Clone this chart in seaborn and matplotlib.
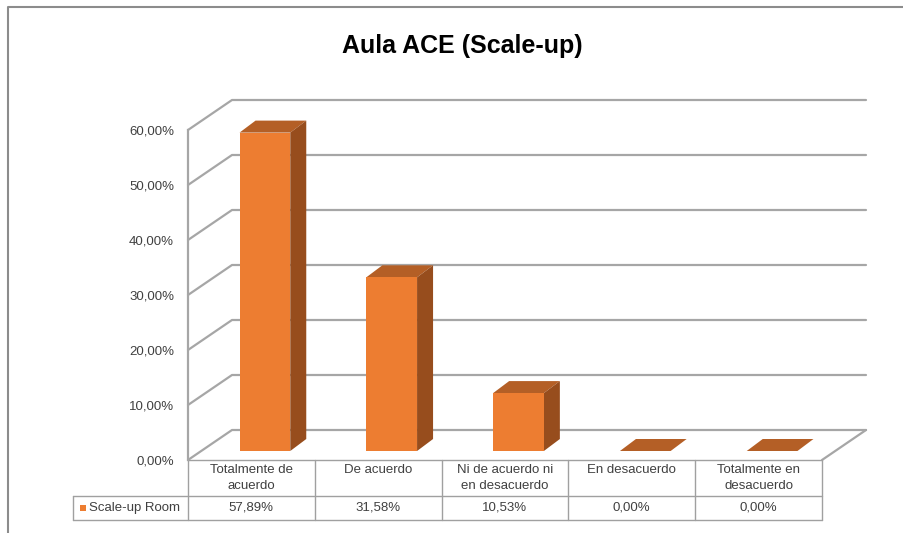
import matplotlib
matplotlib.use("Agg")
import matplotlib.pyplot as plt
import seaborn as sns
import numpy as np
from matplotlib.patches import Polygon, Rectangle
from matplotlib.lines import Line2D
from matplotlib.transforms import ScaledTranslation, IdentityTransform

# ---- data ----
title = "Aula ACE (Scale-up)"
series_name = "Scale-up Room"
categories = ["Totalmente de\nacuerdo", "De acuerdo", "Ni de acuerdo ni\nen desacuerdo",
              "En desacuerdo", "Totalmente en\ndesacuerdo"]
values = [0.5789, 0.3158, 0.1053, 0.0, 0.0]
ticks = [0.0, 0.1, 0.2, 0.3, 0.4, 0.5, 0.6]

FRONT = "#ED7D31"
TOP = "#B45F26"
SIDE = "#974D1D"
GRID = "#A6A6A6"
TXT = "#404040"

sns.set_style("white")
plt.rcParams['font.family'] = ['Liberation Sans', 'DejaVu Sans']

W, H = 904, 533
fig = plt.figure(figsize=(W / 100, H / 100), dpi=100)
ax = fig.add_axes([188 / W, 73 / H, 634 / W, 330 / H])
ax.patch.set_alpha(0)

sns.barplot(x=list(range(len(categories))), y=values, color=FRONT, saturation=1,
            width=0.4, ax=ax, zorder=5)
ax.set_xlim(-0.5, len(categories) - 0.5)
ax.set_ylim(0, 0.6)
ax.set_xticks([])
ax.set_xlabel("")
ax.set_ylabel("")
ax.set_yticks(ticks)
ax.set_yticklabels([f"{t*100:.2f}%".replace(".", ",") for t in ticks])
ax.tick_params(axis="y", length=0, pad=10, labelsize=9.5, labelcolor=TXT)
for s in ["top", "right", "bottom"]:
    ax.spines[s].set_visible(False)
ax.spines["left"].set_color(GRID)
ax.spines["left"].set_linewidth(1.6)

ID = IdentityTransform()


def D(x, v, dx=0.0, dy=0.0):
    X, Y = ax.transData.transform((x, v))
    return (X + dx, Y + dy)


def add_line(pts, color, lw, z):
    xs, ys = zip(*pts)
    ln = Line2D(xs, ys, transform=ID, color=color, lw=lw, zorder=z)
    ln.set_clip_on(False)
    ax.add_artist(ln)


def add_poly(pts, color, z):
    pg = Polygon(pts, closed=True, transform=ID, facecolor=color,
                 edgecolor="none", zorder=z)
    pg.set_clip_on(False)
    ax.add_artist(pg)


DEPTH = (44, 30)
BF = (13.5, 9)
BB = (29.5, 21)
x0a, x1a = -0.5, len(categories) - 0.5

# gridlines (walls)
for t in ticks:
    add_line([D(x0a, t), D(x0a, t, *DEPTH), D(x1a, t, *DEPTH)], GRID, 1.6, 1)
# floor right edge
add_line([D(x1a, 0), D(x1a, 0, *DEPTH)], GRID, 1.6, 1)

# bars: shift front faces, add top and side faces
shift = ScaledTranslation(BF[0] / 100, BF[1] / 100, fig.dpi_scale_trans)
for p in list(ax.patches):
    p.set_transform(ax.transData + shift)
    p.set_clip_on(False)
    p.set_edgecolor("none")
    p.set_zorder(5)
    xa = p.get_x()
    xb = xa + p.get_width()
    h = p.get_height()
    add_poly([D(xa, h, *BF), D(xb, h, *BF), D(xb, h, *BB), D(xa, h, *BB)], TOP, 4)
    if h > 0:
        add_poly([D(xb, 0, *BF), D(xb, h, *BF), D(xb, h, *BB), D(xb, 0, *BB)], SIDE, 4)

# data table
TL = "#A0A0A0"
r1, r2 = -36, -60
legw = -115

add_line([D(x0a, 0), D(x1a, 0)], TL, 1.0, 2)
add_line([D(x0a, 0, legw, r1), D(x1a, 0, 0, r1)], TL, 1.0, 2)
add_line([D(x0a, 0, legw, r2), D(x1a, 0, 0, r2)], TL, 1.0, 2)
for i in range(len(categories) + 1):
    add_line([D(i - 0.5, 0), D(i - 0.5, 0, 0, r2)], TL, 1.0, 2)
add_line([D(x0a, 0, legw, r1), D(x0a, 0, legw, r2)], TL, 1.0, 2)

for i, (c, v) in enumerate(zip(categories, values)):
    X, Y = D(i, 0, 0, -4)
    fig.text(X / W, Y / H, c, ha="center", va="top", fontsize=9.5, color=TXT,
             linespacing=1.4)
    X, Y = D(i, 0, 0, (r1 + r2) / 2)
    fig.text(X / W, Y / H, f"{v*100:.2f}%".replace(".", ","), ha="center",
             va="center", fontsize=9.5, color=TXT)

X, Y = D(x0a, 0, legw + 7, (r1 + r2) / 2)
rk = Rectangle((X, Y - 3), 6, 6, transform=ID, facecolor=FRONT, edgecolor="none")
rk.set_clip_on(False)
ax.add_artist(rk)
fig.text((X + 9) / W, Y / H, series_name, ha="left", va="center", fontsize=9.5,
         color=TXT)

# chart frame (left/top edge visible)
fig.add_artist(Line2D([8 / W, 8 / W, 1.0], [0.0, 1 - 7 / H, 1 - 7 / H],
                      transform=fig.transFigure, color="#8C8C8C", lw=1.5))

fig.text(462 / W, 1 - 46 / H, title, ha="center", va="center", fontsize=18,
         fontweight="bold", color="black")

fig.savefig("out.png", dpi=100)
